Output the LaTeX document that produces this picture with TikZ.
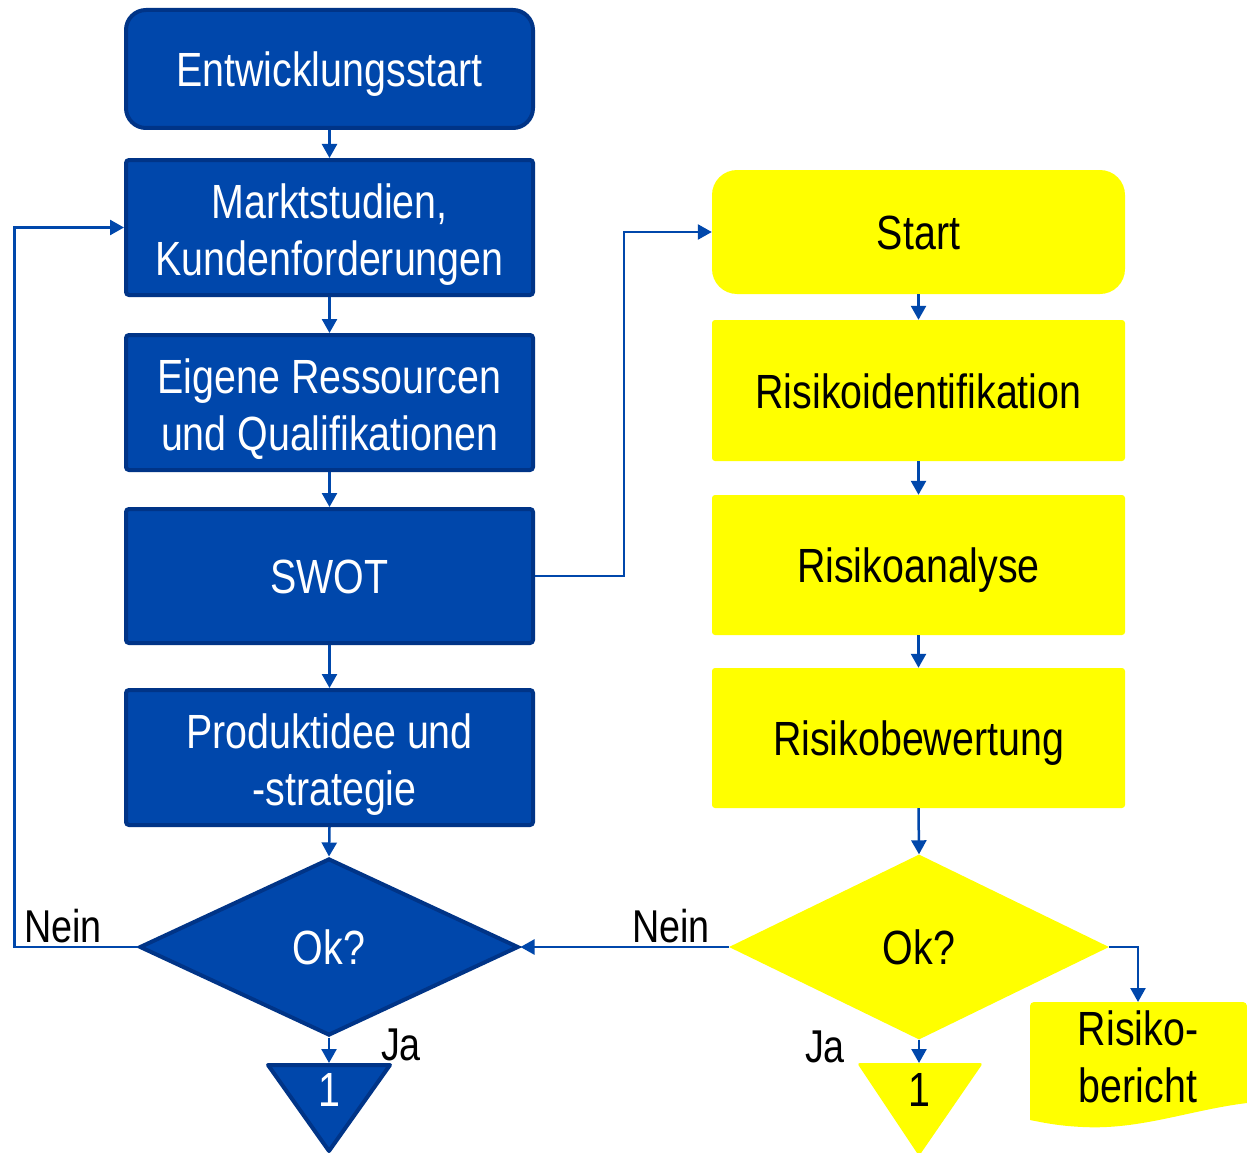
\documentclass[tikz,border=0pt]{standalone}
\usepackage{fontspec}
\setmainfont{Liberation Sans}[FakeStretch=0.82]
\usetikzlibrary{arrows.meta,shapes.geometric,calc}
\definecolor{bfill}{RGB}{0,71,171}
\definecolor{bdraw}{RGB}{0,52,135}
\definecolor{ylw}{RGB}{255,255,0}
\begin{document}
\begin{tikzpicture}[x=1pt,y=-1pt,
  bigfont/.style={font=\fontsize{48}{57}\selectfont},
  oneline/.style={text height=35pt, text depth=0pt},
  twoline/.style={text height=96pt, text depth=0pt},
  bluebox/.style={draw=bdraw, line width=4pt, fill=bfill, text=white,
    minimum width=407pt, rounded corners=3pt, inner sep=0pt, align=center, bigfont},
  ylwbox/.style={fill=ylw, text=black, minimum width=413pt, rounded corners=3pt,
    inner sep=0pt, align=center, bigfont},
  lbl/.style={font=\fontsize{46}{54}\selectfont, inner sep=0pt, text=black},
  conn/.style={draw=bfill, line width=2.5pt, -{Triangle[length=14pt,width=15pt]}}
]
\useasboundingbox (0,0) rectangle (1247,1153);
\fill[white] (0,0) rectangle (1247,1153);

% ---------- blue column ----------
\node[bluebox, oneline, minimum height=118pt, rounded corners=20pt] (e1) at (329.5,69) {Entwicklungsstart};
\node[bluebox, twoline, minimum height=135pt] (e2) at (329.5,227.5) {Marktstudien,\\Kundenforderungen};
\node[bluebox, twoline, minimum height=135pt] (e3) at (329.5,402.5) {Eigene Ressourcen\\und Qualifikationen};
\node[bluebox, oneline, minimum height=134pt] (e4) at (329.5,576) {SWOT};
\node[bluebox, twoline, minimum height=135pt] (e5) at (329.5,757.5) {Produktidee und\\\hspace*{10pt}-strategie};
\node[diamond, draw=bdraw, line width=4pt, fill=bfill, text=white, bigfont, oneline,
      minimum width=379pt, minimum height=177pt, inner sep=0pt, aspect=2.1] (ok1) at (329,947) {Ok?};
\filldraw[draw=bdraw, fill=bfill, line width=4pt, line join=round]
  (268,1065) -- (390,1065) -- (329,1151) -- cycle;
\coordinate (t1top) at (329,1063);
\node[bigfont, text=white, inner sep=0pt, oneline] (t1) at (329,1089) {1};

% ---------- yellow column ----------
\node[ylwbox, oneline, minimum height=124pt, rounded corners=25pt] (y1) at (918.5,232) {Start};
\node[ylwbox, oneline, minimum height=141pt] (y2) at (918.5,390.5) {Risikoidentifikation};
\node[ylwbox, oneline, minimum height=140pt] (y3) at (918.5,565) {Risikoanalyse};
\node[ylwbox, oneline, minimum height=140pt] (y4) at (918.5,738) {Risikobewertung};
\node[diamond, fill=ylw, text=black, bigfont, oneline,
      minimum width=380pt, minimum height=185pt, inner sep=0pt, aspect=2.05] (ok2) at (919,947) {Ok?};
\fill[ylw, rounded corners=3pt] (857,1063) -- (983,1063) -- (919,1156) -- cycle;
\coordinate (t2top) at (919,1063);
\node[bigfont, text=black, inner sep=0pt, oneline] (t2) at (919,1089) {1};

% Risikobericht document
\fill[ylw] (1030,1120) -- (1030,1006) to[out=90,in=180] (1034,1002) -- (1243,1002)
  to[out=0,in=90] (1247,1006) -- (1247,1103)
  .. controls (1190,1110) and (1140,1130) .. (1083,1127)
  .. controls (1060,1126) and (1045,1123) .. (1030,1120) -- cycle;
\coordinate (bertop) at (1138,1002);
\node[bigfont, text=black, align=center, inner sep=0pt, text height=92pt, text depth=0pt] (bericht) at (1138,1056) {Risiko-\\bericht};

% ---------- labels ----------
\node[lbl] (nein1) at (63,926) {Nein};
\node[lbl] (nein2) at (671,926) {Nein};
\node[lbl] (ja1) at (401,1045) {Ja};
\node[lbl] (ja2) at (825,1047) {Ja};

% ---------- connectors ----------
\draw[conn] (e1.south) -- (e2.north);
\draw[conn] (e2.south) -- (e3.north);
\draw[conn] (e3.south) -- (e4.north);
\draw[conn] (e4.south) -- (e5.north);
\draw[conn] (e5.south) -- (ok1.north);
\draw[conn] (ok1.south) -- (t1top);
\draw[conn] (ok1.west) -- ($(ok1.west)+(-123,0)$) |- (e2.west);
\draw[conn] (e4.east) -- ($(e4.east)+(89,0)$) |- (y1.west);

\draw[conn] (y1.south) -- (y2.north);
\draw[conn] (y2.south) -- (y3.north);
\draw[conn] (y3.south) -- (y4.north);
\draw[conn] (y4.south) -- (ok2.north);
\draw[conn] (ok2.south) -- (t2top);
\draw[conn] (ok2.west) -- (ok1.east);
\draw[conn] (ok2.east) -| (bertop);
\end{tikzpicture}
\end{document}
